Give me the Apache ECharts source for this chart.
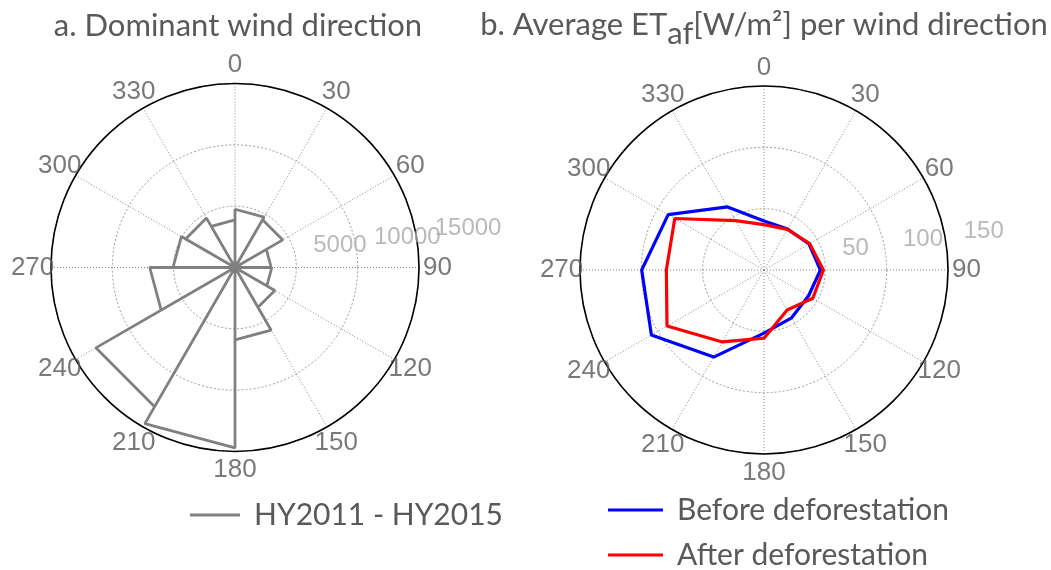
<!DOCTYPE html>
<html>
<head>
<meta charset="utf-8">
<script src="https://cdn.jsdelivr.net/npm/echarts@6/dist/echarts.min.js"></script>
<style>
  html, body { margin: 0; padding: 0; background: #ffffff; }
  #chart { width: 1051px; height: 570px; }
</style>
</head>
<body>
<div id="chart"></div>
<script>
// Wind direction bins: start angle of each 30° sector (compass degrees, clockwise from north)
const windBinStarts = [0, 30, 60, 90, 120, 150, 180, 210, 240, 270, 300, 330];
const windBinWidth = 30;
// Number of occurrences per direction sector, HY2011 - HY2015
const windCounts = [4750, 4500, 2950, 3000, 3750, 5900, 14700, 13100, 6950, 5050, 4650, 3880];

// Average ET_af [W/m²] per wind direction
const etDirections = [0, 30, 60, 90, 120, 150, 180, 210, 240, 270, 300, 330];
const etBefore = [40, 38.5, 42.4, 46, 42, 45, 51.5, 82, 106, 99.7, 90.2, 59.4];
const etAfter = [37, 38.2, 43, 48.4, 46, 37.7, 55.6, 67.7, 91.3, 79.6, 84, 46.5];

// Axis ticks
const angleTicks = [0, 30, 60, 90, 120, 150, 180, 210, 240, 270, 300, 330];
const windRadiusTicks = [5000, 10000, 15000];
const etRadiusTicks = [50, 100, 150];

const TEXT_FONT = 'Lato';
const TEXT_COLOR = '#595959';
const TICK_FONT = 'Liberation Sans';

// Rose outline: centre -> sector start -> sector end -> centre, for every sector
const rosePath = [];
windBinStarts.forEach((a0, i) => {
  const a1 = a0 + windBinWidth;
  const c = windCounts[i];
  rosePath.push([0, a0], [c, a0], [c, a1], [0, a1]);
});

function closedRing(values) {
  const pts = values.map((v, i) => [v, etDirections[i]]);
  pts.push([values[0], 360]);
  return pts;
}

function angleAxisFor(idx) {
  return {
    polarIndex: idx, type: 'value', min: 0, max: 360, interval: 30,
    startAngle: 90, clockwise: true,
    axisLine: { lineStyle: { color: '#000000', width: 1.6 } },
    axisTick: { show: false },
    axisLabel: { show: false },
    splitLine: { lineStyle: { color: '#858585', type: [1, 2], width: 1 } }
  };
}

function radiusAxisFor(idx, ticks) {
  return {
    polarIndex: idx, type: 'value', min: 0, max: ticks[ticks.length - 1],
    interval: ticks[0],
    axisLine: { show: false },
    axisTick: { show: false },
    axisLabel: { show: false },
    splitLine: { lineStyle: { color: '#999999', type: [2, 2], width: 1 } }
  };
}

// Compass labels just outside the outer ring
function angleLabels(idx, rMax) {
  return {
    type: 'scatter', coordinateSystem: 'polar', polarIndex: idx,
    silent: true, clip: false, symbol: 'circle', symbolSize: 1,
    itemStyle: { color: 'rgba(0,0,0,0)' },
    data: angleTicks.map(a => [rMax * 1.1, a]),
    label: {
      show: true, position: 'inside',
      formatter: p => String(p.value[1]),
      color: '#575757', fontFamily: TICK_FONT, fontSize: 26,
      align: 'center', verticalAlign: 'middle'
    }
  };
}

// Ring value labels along a direction slightly above east
function radiusLabels(idx, ticks) {
  return {
    type: 'scatter', coordinateSystem: 'polar', polarIndex: idx,
    silent: true, clip: false, symbol: 'circle', symbolSize: 1,
    itemStyle: { color: 'rgba(0,0,0,0)' },
    data: ticks.map(v => [v, 82]),
    label: {
      show: true, position: [18, -13],
      formatter: p => String(p.value[0]),
      color: '#a8a8a8', fontFamily: TICK_FONT, fontSize: 24,
      align: 'left', verticalAlign: 'middle'
    }
  };
}

function legendFor(name, left, top, width) {
  return {
    data: [name], left: left, top: top, padding: 0,
    itemWidth: width, itemHeight: 3, icon: 'rect', selectedMode: false,
    textStyle: {
      fontFamily: TEXT_FONT, fontSize: 30, color: TEXT_COLOR,
      lineHeight: 36, padding: [0, 0, 0, 9]
    }
  };
}

const chart = echarts.init(document.getElementById('chart'), null, { renderer: 'canvas' });
chart.setOption({
  animation: false,
  backgroundColor: '#ffffff',
  title: [
    {
      text: 'a. Dominant wind direction',
      left: 238, top: 10, textAlign: 'center', padding: 0,
      textStyle: { fontFamily: TEXT_FONT, fontSize: 31, fontWeight: 'normal', color: TEXT_COLOR }
    },
    {
      text: '{n|b. Average ET}{s|af}{n|[W/m²] per wind direction}',
      left: 764, top: 9, textAlign: 'center', padding: 0,
      textStyle: {
        fontFamily: TEXT_FONT, fontSize: 31, fontWeight: 'normal', color: TEXT_COLOR,
        rich: {
          n: { fontFamily: TEXT_FONT, fontSize: 31, color: TEXT_COLOR, lineHeight: 31 },
          s: { fontFamily: TEXT_FONT, fontSize: 31, color: TEXT_COLOR, lineHeight: 31, padding: [18, 0, 0, 0] }
        }
      }
    }
  ],
  legend: [
    legendFor('HY2011 - HY2015', 190, 497, 50),
    legendFor('Before deforestation', 608, 492, 55),
    legendFor('After deforestation', 608, 537, 55)
  ],
  polar: [
    { center: [235, 267.5], radius: 184 },
    { center: [764, 270], radius: 184 }
  ],
  angleAxis: [angleAxisFor(0), angleAxisFor(1)],
  radiusAxis: [radiusAxisFor(0, windRadiusTicks), radiusAxisFor(1, etRadiusTicks)],
  series: [
    {
      name: 'HY2011 - HY2015', type: 'line', coordinateSystem: 'polar', polarIndex: 0,
      data: rosePath, symbol: 'none', color: '#808080',
      lineStyle: { color: '#808080', width: 2.8 }
    },
    {
      name: 'Before deforestation', type: 'line', coordinateSystem: 'polar', polarIndex: 1,
      data: closedRing(etBefore), symbol: 'none', color: '#0000ff',
      lineStyle: { color: '#0000ff', width: 3.2 }
    },
    {
      name: 'After deforestation', type: 'line', coordinateSystem: 'polar', polarIndex: 1,
      data: closedRing(etAfter), symbol: 'none', color: '#ff0000',
      lineStyle: { color: '#ff0000', width: 3.2 }
    },
    angleLabels(0, windRadiusTicks[windRadiusTicks.length - 1]),
    angleLabels(1, etRadiusTicks[etRadiusTicks.length - 1]),
    radiusLabels(0, windRadiusTicks),
    radiusLabels(1, etRadiusTicks)
  ]
});
</script>
</body>
</html>
